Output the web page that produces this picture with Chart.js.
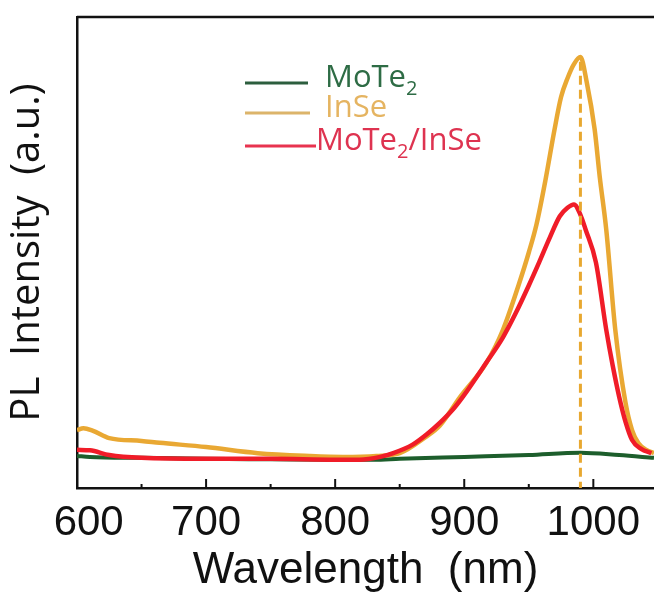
<!DOCTYPE html>
<html lang="en">
<head>
    <meta charset="UTF-8">
    <title>PL spectra</title>
    <script src="https://cdn.jsdelivr.net/npm/chart.js"></script>
    <style>
        html, body { margin: 0; padding: 0; background: #fff; }
        canvas { display: block; }
    </style>
</head>
<body>
    <canvas id="plChart" width="654" height="593"></canvas>

    <script>
        // wavelength (nm) / intensity (a.u.)
        const moteWl  = [600, 610, 650, 700, 750, 800, 830, 850, 900, 950, 990, 1020, 1047];
        const moteInt = [0.068, 0.066, 0.064, 0.062, 0.061, 0.060, 0.060, 0.062, 0.066, 0.070, 0.075, 0.070, 0.064];

        const inseWl  = [600, 605, 612, 625, 650, 664, 700, 740, 780, 806, 832, 850, 870, 881, 897, 917, 930, 942, 950, 956, 963, 970, 975, 980, 985, 990, 995, 1001, 1005, 1010, 1017, 1025, 1030, 1035, 1041, 1047];
        const inseInt = [0.123, 0.127, 0.122, 0.106, 0.100, 0.096, 0.087, 0.074, 0.068, 0.066, 0.068, 0.074, 0.108, 0.132, 0.194, 0.265, 0.336, 0.430, 0.500, 0.560, 0.655, 0.762, 0.830, 0.870, 0.900, 0.915, 0.860, 0.762, 0.660, 0.549, 0.336, 0.180, 0.123, 0.095, 0.081, 0.074];

        const hetWl  = [600, 610, 625, 650, 700, 750, 800, 819, 835, 845, 860, 871, 881, 891, 899, 917, 930, 940, 950, 958, 966, 974, 980, 985, 990, 994, 1002, 1010, 1015, 1020, 1025, 1030, 1037, 1045];
        const hetInt = [0.081, 0.080, 0.070, 0.064, 0.062, 0.062, 0.060, 0.060, 0.066, 0.074, 0.092, 0.114, 0.138, 0.166, 0.194, 0.266, 0.320, 0.372, 0.430, 0.479, 0.530, 0.577, 0.595, 0.602, 0.580, 0.549, 0.479, 0.336, 0.260, 0.194, 0.140, 0.102, 0.083, 0.074];

        const peakWl = 990;
        const peakInt = 0.905;
        const xTicks = [600, 700, 800, 900, 1000];

        const toXY = (xs, ys) => xs.map((x, i) => ({ x: x, y: ys[i] }));

        // inward ticks + top frame line
        const framePlugin = {
            id: 'frame',
            afterDraw(chart) {
                const { ctx, chartArea } = chart;
                const xs = chart.scales.x;
                ctx.save();
                ctx.strokeStyle = '#111';
                ctx.lineWidth = 2.5;
                ctx.beginPath();
                ctx.moveTo(chartArea.left, chartArea.top);
                ctx.lineTo(chartArea.right, chartArea.top);
                ctx.stroke();
                ctx.lineWidth = 2;
                for (let v = 600; v <= 1040; v += 50) {
                    const px = xs.getPixelForValue(v);
                    const len = (v % 100 === 0) ? 9 : 4;
                    ctx.beginPath();
                    ctx.moveTo(px, chartArea.bottom);
                    ctx.lineTo(px, chartArea.bottom - len);
                    ctx.stroke();
                }
                ctx.restore();
            }
        };

        // legend drawn inside the plot (with subscripts)
        const legendItems = [
            { parts: [['MoTe', false], ['2', true]], line: '#2c5e3e', text: '#2e6c45', y: 87, x1: 245, x2: 308, tx: 325 },
            { parts: [['InSe', false]], line: '#dcb46a', text: '#e5b461', y: 117, x1: 245, x2: 310, tx: 325 },
            { parts: [['MoTe', false], ['2', true], ['/InSe', false]], line: '#e8334f', text: '#de3350', y: 150, x1: 245, x2: 316, tx: 316 }
        ];
        const legendPlugin = {
            id: 'innerLegend',
            afterDraw(chart) {
                const ctx = chart.ctx;
                ctx.save();
                ctx.textBaseline = 'alphabetic';
                legendItems.forEach(it => {
                    ctx.strokeStyle = it.line;
                    ctx.lineWidth = 3;
                    ctx.beginPath();
                    ctx.moveTo(it.x1, it.y - 4);
                    ctx.lineTo(it.x2, it.y - 4);
                    ctx.stroke();
                    ctx.fillStyle = it.text;
                    let x = it.tx;
                    it.parts.forEach(([s, sub]) => {
                        ctx.font = sub ? '20px "Open Sans"' : '31px "Open Sans"';
                        ctx.fillText(s, x, sub ? it.y + 8 : it.y);
                        x += ctx.measureText(s).width;
                    });
                });
                ctx.restore();
            }
        };

        new Chart(document.getElementById('plChart'), {
            type: 'scatter',
            data: {
                datasets: [
                    {
                        label: 'peak',
                        data: [{ x: peakWl, y: peakInt }, { x: peakWl, y: 0 }],
                        showLine: true,
                        borderColor: '#e8a830',
                        borderWidth: 3,
                        borderDash: [9, 5],
                        pointRadius: 0,
                        order: 0
                    },
                    {
                        label: 'MoTe2/InSe',
                        data: toXY(hetWl, hetInt),
                        showLine: true,
                        borderColor: '#f01c28',
                        borderWidth: 4.5,
                        pointRadius: 0,
                        cubicInterpolationMode: 'monotone',
                        order: 1
                    },
                    {
                        label: 'InSe',
                        data: toXY(inseWl, inseInt),
                        showLine: true,
                        borderColor: '#e9a833',
                        borderWidth: 4.5,
                        pointRadius: 0,
                        cubicInterpolationMode: 'monotone',
                        order: 2
                    },
                    {
                        label: 'MoTe2',
                        data: toXY(moteWl, moteInt),
                        showLine: true,
                        borderColor: '#1d5e2c',
                        borderWidth: 4,
                        pointRadius: 0,
                        cubicInterpolationMode: 'monotone',
                        order: 3
                    }
                ]
            },
            options: {
                responsive: false,
                animation: false,
                layout: { padding: { top: 17, right: 0, left: 0, bottom: 0 } },
                plugins: {
                    legend: { display: false },
                    tooltip: { enabled: false }
                },
                scales: {
                    x: {
                        type: 'linear',
                        min: 600,
                        max: 1047,
                        afterFit(s) { s.height = 105; },
                        afterBuildTicks(s) { s.ticks = xTicks.map(v => ({ value: v })); },
                        border: { display: true, color: '#111', width: 2.5 },
                        grid: { display: false, drawTicks: false },
                        ticks: {
                            maxRotation: 0,
                            autoSkip: false,
                            padding: 10,
                            color: '#111',
                            font: { family: '"Liberation Sans", Arial', size: 42 },
                            callback: v => (v === 600 ? '  600' : String(v))
                        },
                        title: {
                            display: true,
                            text: 'Wavelength  (nm)',
                            color: '#111',
                            padding: 0,
                            font: { family: '"Liberation Sans", Arial', size: 44, lineHeight: 1.0 }
                        }
                    },
                    y: {
                        min: 0,
                        max: 1,
                        afterFit(s) { s.width = 77; },
                        border: { display: true, color: '#111', width: 2.5 },
                        grid: { display: false, drawTicks: false },
                        ticks: { display: false },
                        title: {
                            display: true,
                            text: 'PL  Intensity  (a.u.)',
                            color: '#111',
                            padding: { top: 4, bottom: 0 },
                            font: { family: '"Open Sans"', size: 40 }
                        }
                    }
                }
            },
            plugins: [framePlugin, legendPlugin]
        });
    </script>
</body>
</html>
